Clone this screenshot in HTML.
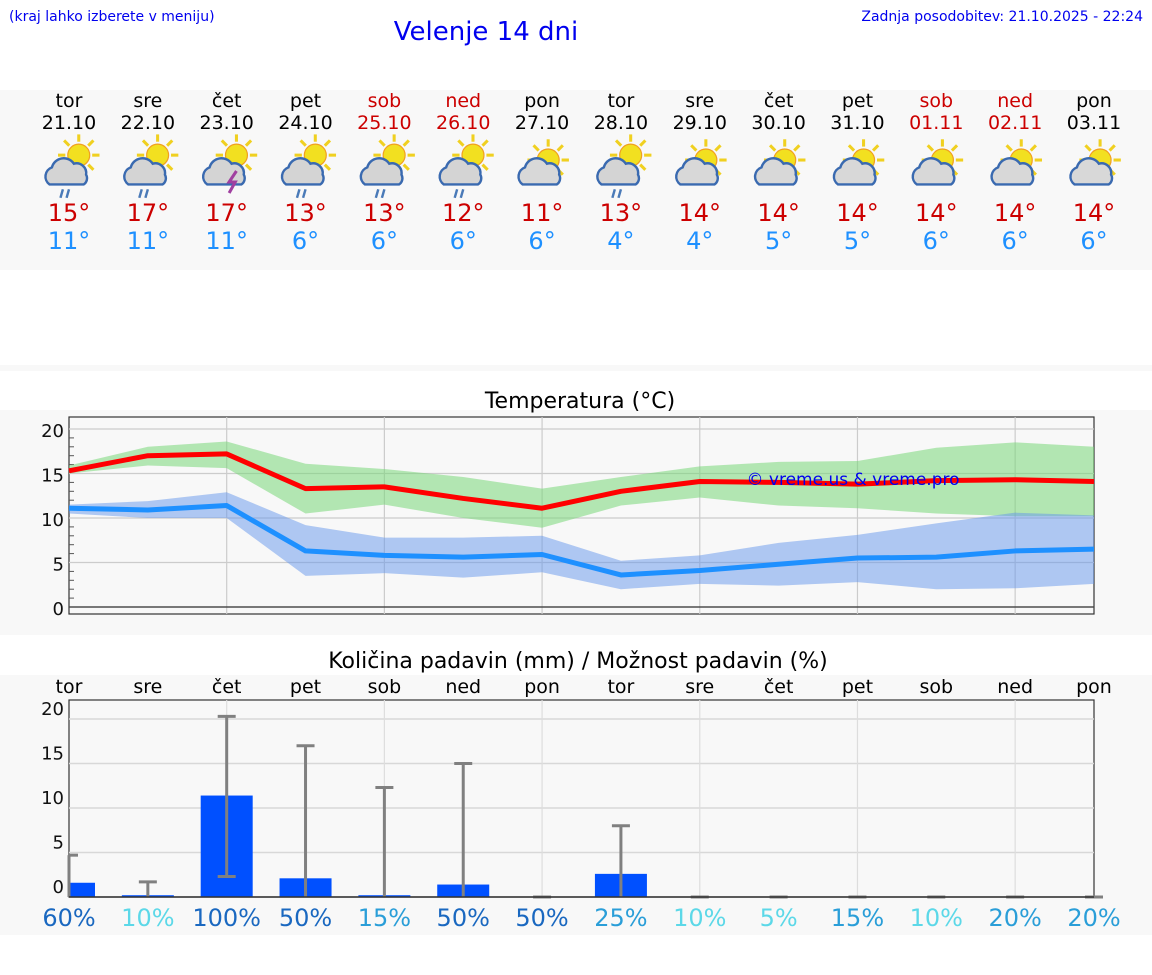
<!DOCTYPE html>
<html><head><meta charset="utf-8"><style>
body{margin:0;width:1152px;height:975px;background:#fff;overflow:hidden;font-family:"DejaVu Sans","Liberation Sans",sans-serif}
svg{position:absolute;left:0;top:0}
</style></head><body>
<svg id="s" width="1152" height="975" xmlns="http://www.w3.org/2000/svg" font-family="DejaVu Sans, Liberation Sans, sans-serif">
<rect x="0" y="90" width="1152" height="180" fill="#f8f8f8"/>
<rect x="0" y="365" width="1152" height="6" fill="#f8f8f8"/>
<rect x="0" y="410" width="1152" height="225" fill="#f8f8f8"/>
<rect x="0" y="675" width="1152" height="260" fill="#f8f8f8"/>
<text x="9" y="21" font-size="14" fill="#0000ee">(kraj lahko izberete v meniju)</text>
<text x="486" y="40" font-size="26" fill="#0000ee" text-anchor="middle">Velenje 14 dni</text>
<text x="1143" y="21" font-size="14" fill="#0000ee" text-anchor="end">Zadnja posodobitev: 21.10.2025 - 22:24</text>
<text x="580" y="408" font-size="22" fill="#000" text-anchor="middle">Temperatura (°C)</text>
<text x="578" y="668" font-size="22" fill="#000" text-anchor="middle">Količina padavin (mm) / Možnost padavin (%)</text>
<g id="g"></g>
</svg>
<script>
const days=["tor","sre","čet","pet","sob","ned","pon","tor","sre","čet","pet","sob","ned","pon"];
const dates=["21.10","22.10","23.10","24.10","25.10","26.10","27.10","28.10","29.10","30.10","31.10","01.11","02.11","03.11"];
const weekend=[0,0,0,0,1,1,0,0,0,0,0,1,1,0];
const rainIcon=[1,1,2,1,1,1,0,1,0,0,0,0,0,0];
const tMax=[15.3,17.0,17.2,13.3,13.5,12.2,11.1,13.0,14.1,14.0,13.8,14.2,14.3,14.1];
const tMaxHi=[15.9,18.0,18.6,16.1,15.5,14.6,13.3,14.6,15.8,16.3,16.4,17.9,18.5,18.0];
const tMaxLo=[15.0,15.9,15.6,10.5,11.5,10.0,8.9,11.4,12.3,11.4,11.1,10.5,10.2,10.2];
const tMin=[11.1,10.9,11.4,6.3,5.8,5.6,5.9,3.6,4.1,4.8,5.5,5.6,6.3,6.5];
const tMinHi=[11.5,11.9,12.9,9.2,7.8,7.8,8.0,5.2,5.8,7.2,8.1,9.4,10.6,10.3];
const tMinLo=[10.5,10.0,10.0,3.5,3.8,3.3,3.9,2.0,2.6,2.4,2.8,2.0,2.1,2.6];
const maxLabels=[15,17,17,13,13,12,11,13,14,14,14,14,14,14];
const minLabels=[11,11,11,6,6,6,6,4,4,5,5,6,6,6];
const precip=[1.6,0.2,11.4,2.1,0.2,1.4,0,2.6,0,0,0,0,0,0];
const precipLo=[0,0,2.3,0,0,0,0,0,0,0,0,0,0,0];
const precipHi=[4.7,1.7,20.3,17.0,12.3,15.0,0,8.0,0,0,0,0,0,0];
const chance=[60,10,100,50,15,50,50,25,10,5,15,10,20,20];
const yTicks=[0,5,10,15,20];

const NS="http://www.w3.org/2000/svg",G=document.getElementById('g');
function el(t,a,txt){const e=document.createElementNS(NS,t);for(const k in a)e.setAttribute(k,a[k]);if(txt!==undefined)e.textContent=txt;G.appendChild(e);return e;}
const X0=69,X1=1094;
const xs=i=>X0+i*(X1-X0)/13;
const yT=v=>607-v*8.9;
const yP=v=>897-v*8.9;
function chanceColor(c){return c>=50?'#1a68c0':c>=15?'#2a9ed8':'#5cd8e8';}

days.forEach((d,i)=>{
  const x=xs(i),c=weekend[i]?'#cc0000':'#000';
  let e=el('text',{x:x,y:107,'font-size':19,fill:c,'text-anchor':'middle'},d);
  
  e=el('text',{x:x,y:129,'font-size':19,fill:c,'text-anchor':'middle'},dates[i]);
  
  const ic=el('g',{transform:`translate(${x},171) scale(1.22) translate(0,-165)`});
  
  const sx=rainIcon[i]===0?5:8,sy=rainIcon[i]===0?156:152;
  for(let k=0;k<8;k++){const a=k*Math.PI/4;const r=document.createElementNS(NS,'line');
    r.setAttribute('x1',sx+Math.cos(a)*11);r.setAttribute('y1',sy+Math.sin(a)*11);
    r.setAttribute('x2',sx+Math.cos(a)*17);r.setAttribute('y2',sy+Math.sin(a)*17);
    r.setAttribute('stroke','#f0d020');r.setAttribute('stroke-width',2.5);ic.appendChild(r);}
  const sun=document.createElementNS(NS,'circle');sun.setAttribute('cx',sx);sun.setAttribute('cy',sy);sun.setAttribute('r',9);sun.setAttribute('fill','#f2e020');sun.setAttribute('stroke','#f0a020');ic.appendChild(sun);
  const cl=document.createElementNS(NS,'path');
  cl.setAttribute('d','M-16,176 a8,8 0 0 1 2,-14 a10,10 0 0 1 18,-3 a8,8 0 0 1 10,9 a6,6 0 0 1 -2,8 z');
  cl.setAttribute('fill',rainIcon[i]===0?'#d8d8d8':'#d4d4d4');cl.setAttribute('stroke','#3a6ab0');cl.setAttribute('stroke-width',2);ic.appendChild(cl);
  if(rainIcon[i]===1){[-6,-1].forEach(dx=>{const r=document.createElementNS(NS,'line');r.setAttribute('x1',dx+1);r.setAttribute('y1',180);r.setAttribute('x2',dx-1);r.setAttribute('y2',187);r.setAttribute('stroke','#4a7ab8');r.setAttribute('stroke-width',2);ic.appendChild(r);});}
  if(rainIcon[i]===2){const p=document.createElementNS(NS,'path');p.setAttribute('d','M8,165 l-6,9 h5 l-5,9');p.setAttribute('stroke','#a040a0');p.setAttribute('stroke-width',2.5);p.setAttribute('fill','none');ic.appendChild(p);}
  e=el('text',{x:x,y:221,'font-size':24,fill:'#cc0000','text-anchor':'middle'},maxLabels[i]+'°');
  
  e=el('text',{x:x,y:249,'font-size':24,fill:'#1e90ff','text-anchor':'middle'},minLabels[i]+'°');
  
});

let e=el('rect',{x:X0,y:417,width:X1-X0,height:197,fill:'#f8f8f8',stroke:'#333','stroke-width':1.2});

yTicks.forEach(v=>{
  e=el('line',{x1:X0,x2:X1,y1:yT(v),y2:yT(v),stroke:'#ccc','stroke-width':1.2});
  
  e=el('text',{x:64,y:yT(v)+8,'font-size':18,fill:'#111','text-anchor':'end'},v);
  
});
for(let v=1;v<21;v++){if(v%5){e=el('line',{x1:X0,x2:X0+5,y1:yT(v),y2:yT(v),stroke:'#555'});}}
for(let i=2;i<14;i+=2){e=el('line',{x1:xs(i),x2:xs(i),y1:417,y2:614,stroke:'#ccc','stroke-width':1.2});}
function band(hi,lo,fill,name){
  let d='M'+hi.map((v,i)=>xs(i)+','+yT(v)).join('L')+'L'+lo.map((v,i)=>xs(i)+','+yT(v)).reverse().join('L')+'Z';
  const b=el('path',{d:d,fill:fill});
}
function line(vals,stroke,name){
  const l=el('polyline',{points:vals.map((v,i)=>xs(i)+','+yT(v)).join(' '),fill:'none',stroke:stroke,'stroke-width':5,'stroke-linejoin':'round'});
  
}
band(tMaxHi,tMaxLo,'rgba(120,215,120,0.55)','max-temp-range');
band(tMinHi,tMinLo,'rgba(100,150,235,0.5)','min-temp-range');
line(tMax,'#ff0000','max-temp-line');
line(tMin,'#1e90ff','min-temp-line');
e=el('text',{x:853,y:485,'font-size':17,fill:'#0000ee','text-anchor':'middle'},'© vreme.us & vreme.pro');

e=el('line',{x1:X0,x2:X1,y1:yT(0),y2:yT(0),stroke:'#333','stroke-width':1.2});


e=el('rect',{x:X0,y:700,width:X1-X0,height:197,fill:'#f8f8f8',stroke:'#333','stroke-width':1.2});

[5,10,15,20].forEach(v=>{e=el('line',{x1:X0,x2:X1,y1:yP(v),y2:yP(v),stroke:'#d8d8d8','stroke-width':1.5});});
yTicks.forEach(v=>{e=el('text',{x:64,y:yP(v)-4,'font-size':18,fill:'#111','text-anchor':'end'},v);});
for(let i=2;i<14;i+=2){e=el('line',{x1:xs(i),x2:xs(i),y1:700,y2:897,stroke:'#ddd','stroke-width':1.2});}
days.forEach((d,i)=>{
  const x=xs(i);
  e=el('text',{x:x,y:693,'font-size':19,fill:'#000','text-anchor':'middle'},d);
  
  if(precip[i]>0){
    const x0=Math.max(X0,x-26),x1=Math.min(X1,x+26);
    e=el('rect',{x:x0,y:yP(precip[i]),width:x1-x0,height:precip[i]*8.9,fill:'#0050ff'});
    
  }
  const eb=el('g',{stroke:'#808080','stroke-width':3});
  
  [['line',{x1:x,x2:x,y1:yP(precipLo[i]),y2:yP(precipHi[i])}],['line',{x1:Math.max(X0,x-9),x2:x+9,y1:yP(precipHi[i]),y2:yP(precipHi[i])}]].concat(precipLo[i]>0?[['line',{x1:x-9,x2:x+9,y1:yP(precipLo[i]),y2:yP(precipLo[i])}]]:[]).forEach(([t,a])=>{const l=document.createElementNS(NS,t);for(const k in a)l.setAttribute(k,a[k]);eb.appendChild(l);});
  e=el('text',{x:x,y:926,'font-size':24,fill:chanceColor(chance[i]),'text-anchor':'middle'},chance[i]+'%');
  
});
e=el('line',{x1:X0,x2:X1,y1:897,y2:897,stroke:'#333','stroke-width':1.5});

</script>
</body></html>
